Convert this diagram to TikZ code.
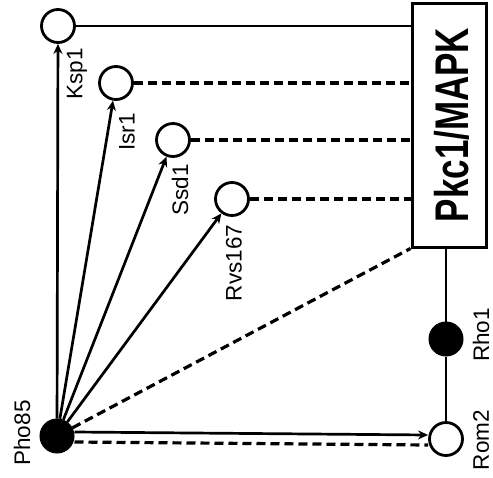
\documentclass[tikz,border=0pt]{standalone}
\usepackage{fontspec}
\setmainfont{Liberation Sans}
\usetikzlibrary{arrows.meta}
\tikzset{
  opennode/.style={circle,draw,line width=2.8pt,fill=white,minimum size=33pt,inner sep=0pt},
  fullnode/.style={circle,draw,line width=1pt,fill=black,minimum size=34pt,inner sep=0pt},
  lbl/.style={rotate=90,inner sep=0pt,font=\fontsize{22.5}{26}\selectfont},
  solidline/.style={line width=2.7pt},
  dashline/.style={line width=3.2pt,dash pattern=on 9pt off 5pt},
  arr/.style={solidline,-{Stealth[length=10pt,width=9pt]}},
}
\begin{document}
\begin{tikzpicture}[x=1pt,y=-1pt]
\useasboundingbox (0,0) rectangle (493,477);
% main box
\node[draw,line width=3pt,minimum width=74pt,minimum height=244pt,inner sep=0pt] (box) at (449,125) {};
\node[rotate=90,inner sep=0pt] (boxtxt) at (452,125) {\scalebox{1}[1.35]{\fontsize{35}{40}\selectfont\bfseries Pkc1/MAPK}};
% nodes
\node[opennode] (ksp) at (58,26) {};
\node[opennode] (isr) at (116,83) {};
\node[opennode] (ssd) at (173,140) {};
\node[opennode] (rvs) at (232,199) {};
\node[fullnode] (pho) at (57,436) {};
\node[fullnode] (rho) at (446,339) {};
\node[opennode] (rom) at (446,439) {};
% labels
\node[lbl] (lksp) at (77,74) {Ksp1};
\node[lbl] (lisr) at (127,132) {Isr1};
\node[lbl] (lssd) at (180,190) {Ssd1};
\node[lbl] (lrvs) at (234,263) {Rvs167};
\node[lbl] (lpho) at (22,433) {Pho85};
\node[lbl] (lrho) at (481,335) {Rho1};
\node[lbl] (lrom) at (481,440) {Rom2};
% connections to box
\draw[solidline] (ksp) -- (ksp -| box.west);
\draw[dashline] (isr) -- (isr -| box.west);
\draw[dashline] (ssd) -- (ssd -| box.west);
\draw[dashline] (rvs) -- (rvs -| box.west);
\draw[dashline] (pho) -- (box.south west);
\draw[solidline] (rom) -- (rho) -- (rho |- box.south);
% arrows from Pho85
\draw[arr] (pho) -- (ksp);
\draw[arr] (pho) -- (isr);
\draw[arr] (pho) -- (ssd);
\draw[arr] (pho) -- (rvs);
\draw[arr] ([yshift=4pt]pho.east) -- ([yshift=4pt]rom.west);
\draw[dashline] ([yshift=-6pt]pho.east) -- ([yshift=-6pt]rom.west);
\end{tikzpicture}
\end{document}
